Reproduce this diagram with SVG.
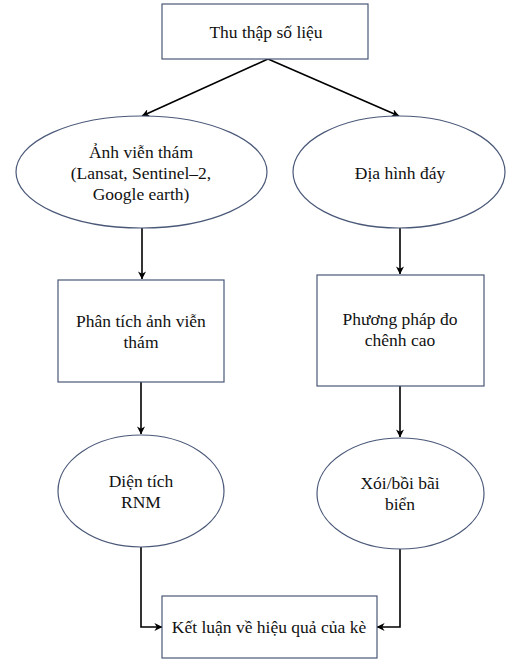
<svg xmlns="http://www.w3.org/2000/svg" width="506" height="659" viewBox="0 0 506 659">
<defs>
<style>
.shape{fill:#fff;stroke:#4a5878;stroke-width:1.2}
.t{font-family:"Liberation Serif","Times New Roman",serif;font-size:17.5px;fill:#111;text-anchor:middle}
.c{fill:none;stroke:#000;stroke-width:1.6}
</style>
<marker id="ah" viewBox="0 0 10 10" refX="9.5" refY="5" markerWidth="8" markerHeight="8" markerUnits="userSpaceOnUse" orient="auto">
<path d="M0,0 L10,5 L0,10 L3,5 Z" fill="#000"/>
</marker>
</defs>
<rect width="506" height="659" fill="#fff"/>
<g id="connectors">
<path class="c" d="M268,59 L142,116" marker-end="url(#ah)"/>
<path class="c" d="M268,59 L399,116" marker-end="url(#ah)"/>
<path class="c" d="M142,228 L142,279" marker-end="url(#ah)"/>
<path class="c" d="M400,228 L400,274" marker-end="url(#ah)"/>
<path class="c" d="M141,382 L141,434" marker-end="url(#ah)"/>
<path class="c" d="M400,386 L400,437" marker-end="url(#ah)"/>
<path class="c" d="M141,547 L141,627 L162,627" marker-end="url(#ah)"/>
<path class="c" d="M400,549 L400,627 L377,627" marker-end="url(#ah)"/>
</g>
<g id="n1">
<rect class="shape" x="162" y="4" width="206" height="55"/>
<text class="t" x="266" y="38">Thu thập số liệu</text>
</g>
<g id="n2">
<ellipse class="shape" cx="141.5" cy="172" rx="125.5" ry="56"/>
<text class="t" x="141" y="158">Ảnh viễn thám</text>
<text class="t" x="141" y="179">(Lansat, Sentinel–2,</text>
<text class="t" x="141" y="200">Google earth)</text>
</g>
<g id="n3">
<ellipse class="shape" cx="399" cy="172" rx="106" ry="56"/>
<text class="t" x="400" y="179">Địa hình đáy</text>
</g>
<g id="n4">
<rect class="shape" x="58" y="280" width="166" height="102"/>
<text class="t" x="141" y="327">Phân tích ảnh viễn</text>
<text class="t" x="141" y="348">thám</text>
</g>
<g id="n5">
<rect class="shape" x="317" y="275" width="167" height="111"/>
<text class="t" x="400" y="325">Phương pháp đo</text>
<text class="t" x="400" y="346">chênh cao</text>
</g>
<g id="n6">
<ellipse class="shape" cx="141" cy="491" rx="83" ry="56"/>
<text class="t" x="141" y="487">Diện tích</text>
<text class="t" x="141" y="508">RNM</text>
</g>
<g id="n7">
<ellipse class="shape" cx="400.5" cy="493.5" rx="83.5" ry="55.5"/>
<text class="t" x="400" y="489">Xói/bồi bãi</text>
<text class="t" x="400" y="510">biển</text>
</g>
<g id="n8">
<rect class="shape" x="162" y="596" width="215" height="62"/>
<text class="t" x="269" y="633">Kết luận về hiệu quả của kè</text>
</g>
</svg>
